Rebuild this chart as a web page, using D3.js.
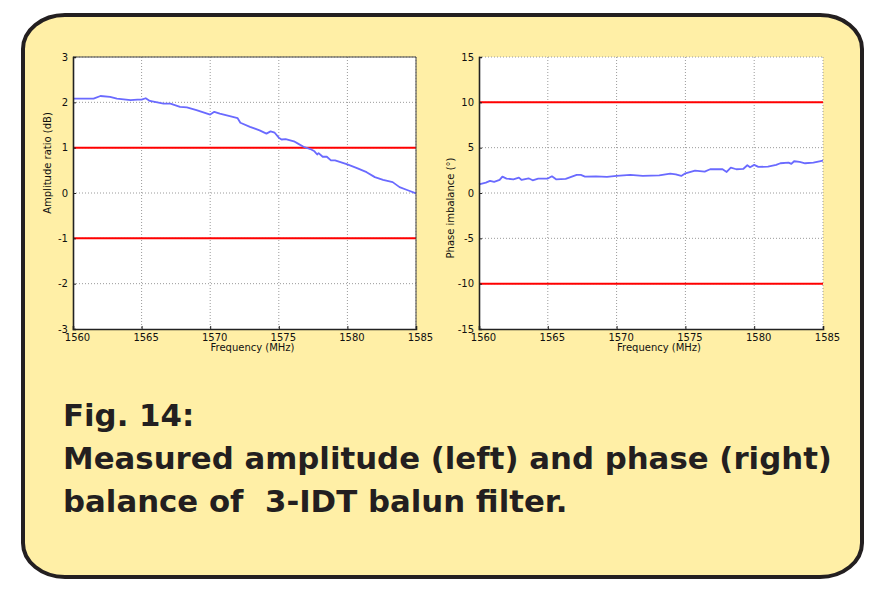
<!DOCTYPE html>
<html><head><meta charset="utf-8">
<script src="https://cdn.jsdelivr.net/npm/d3@7"></script>
<style>html,body{margin:0;padding:0;background:#fff;}svg{display:block;}</style>
</head><body>
<svg id="c" width="869" height="611"></svg>
<script>
// ---- data ----
const freqTicks = [1560, 1565, 1570, 1575, 1580, 1585];
const ampTicks = [-3, -2, -1, 0, 1, 2, 3];
const phaseTicks = [-15, -10, -5, 0, 5, 10, 15];
const ampLimits = [1, -1];
const phaseLimits = [10, -10];

const ampFreq = [1560.0,1561.5,1562.0,1562.7,1563.2,1564.2,1564.7,1565.0,1565.3,1565.6,1566.6,1567.1,1567.8,1568.3,1569.0,1570.0,1570.3,1570.7,1571.5,1572.0,1572.2,1572.9,1573.6,1574.1,1574.4,1574.7,1575.0,1575.2,1575.5,1576.1,1576.4,1576.8,1577.3,1577.6,1577.8,1577.9,1578.2,1578.5,1578.8,1579.1,1580.0,1580.7,1581.4,1582.0,1582.6,1583.3,1583.8,1584.4,1585.0];
const ampVals = [2.08,2.08,2.14,2.12,2.08,2.05,2.06,2.06,2.09,2.03,1.97,1.97,1.90,1.89,1.83,1.73,1.79,1.75,1.69,1.65,1.55,1.46,1.38,1.31,1.36,1.33,1.22,1.18,1.19,1.14,1.09,1.02,0.97,0.92,0.85,0.88,0.80,0.80,0.72,0.72,0.63,0.55,0.46,0.35,0.29,0.24,0.13,0.06,-0.01];

const phaseFreq = [1560.0,1560.5,1560.8,1561.1,1561.5,1561.7,1562.0,1562.5,1562.9,1563.1,1563.6,1563.9,1564.3,1565.0,1565.3,1565.6,1566.3,1567.1,1567.4,1567.7,1568.5,1569.3,1570.0,1571.0,1571.9,1573.1,1573.9,1574.3,1574.7,1575.0,1575.7,1576.4,1576.8,1577.7,1578.0,1578.3,1578.7,1579.2,1579.5,1579.7,1580.0,1580.3,1581.0,1581.6,1581.9,1582.5,1582.7,1582.9,1583.3,1583.7,1584.3,1585.0];
const phaseVals = [0.96,1.14,1.33,1.22,1.44,1.81,1.59,1.51,1.70,1.44,1.62,1.40,1.59,1.59,1.84,1.51,1.55,1.99,1.99,1.81,1.84,1.77,1.88,1.99,1.88,1.95,2.14,2.06,1.88,2.17,2.47,2.36,2.62,2.62,2.32,2.80,2.62,2.65,3.06,2.84,3.10,2.88,2.91,3.10,3.28,3.35,3.21,3.50,3.43,3.28,3.35,3.58];

const captionLines = ["Fig. 14:", "Measured amplitude (left) and phase (right)", "balance of  3-IDT balun filter."];

// ---- drawing ----
const svg = d3.select("#c");
const ink = "#231f20";

// rounded panel
svg.append("path")
  .attr("d", (() => {
    const x0 = 23, y0 = 15, x1 = 862, y1 = 577, rx = 42, ry = 34;
    return `M${x0+rx},${y0} H${x1-rx} A${rx},${ry} 0 0 1 ${x1},${y0+ry} V${y1-ry} A${rx},${ry} 0 0 1 ${x1-rx},${y1} H${x0+rx} A${rx},${ry} 0 0 1 ${x0},${y1-ry} V${y0+ry} A${rx},${ry} 0 0 1 ${x0+rx},${y0} Z`;
  })())
  .attr("fill", "#ffefa6").attr("stroke", ink).attr("stroke-width", 4);

function panel(opts) {
  const {left, right, top, bottom, yDomain, yTicks, xs, ys, limits, ylabel, ylabelX, ylabelY, solidFrame} = opts;
  const x = d3.scaleLinear().domain([1560, 1585]).range([left, right]);
  const y = d3.scaleLinear().domain(yDomain).range([bottom, top]);
  const g = svg.append("g");
  g.append("rect").attr("x", left).attr("y", top).attr("width", right - left).attr("height", bottom - top).attr("fill", "#fff");

  // grid
  g.append("g").selectAll("line").data(freqTicks.slice(1)).join("line")
    .attr("x1", d => x(d)).attr("x2", d => x(d)).attr("y1", top).attr("y2", bottom)
    .attr("stroke", "#9a9a9a").attr("stroke-width", 1).attr("stroke-dasharray", "1,2");
  g.append("g").selectAll("line").data(yTicks.slice(1)).join("line")
    .attr("x1", left).attr("x2", right).attr("y1", d => y(d)).attr("y2", d => y(d))
    .attr("stroke", "#9a9a9a").attr("stroke-width", 1).attr("stroke-dasharray", "1,2");

  // limit lines
  g.append("g").selectAll("line").data(limits).join("line")
    .attr("x1", left).attr("x2", right).attr("y1", d => y(d)).attr("y2", d => y(d))
    .attr("stroke", "#ff0000").attr("stroke-width", 2);

  // data line
  const pts = xs.map((f, i) => [f, ys[i]]);
  g.append("path").datum(pts)
    .attr("d", d3.line().x(d => x(d[0])).y(d => y(d[1])))
    .attr("fill", "none").attr("stroke", "#6a6aff").attr("stroke-width", 1.8).attr("stroke-linejoin", "round");

  if (solidFrame) {
    g.append("path").attr("d", `M${left},${top} H${right} V${bottom}`)
      .attr("fill", "none").attr("stroke", "#444").attr("stroke-width", 1);
  }

  // axes
  const fmt = d => String(d);
  const xAxis = d3.axisBottom(x).tickValues(freqTicks).tickSize(-3).tickPadding(6).tickFormat(fmt);
  const yAxis = d3.axisLeft(y).tickValues(yTicks).tickSize(-3).tickPadding(5).tickFormat(fmt);
  const gx = g.append("g").attr("transform", `translate(0,${bottom})`).call(xAxis);
  const gy = g.append("g").attr("transform", `translate(${left},0)`).call(yAxis);
  [gx, gy].forEach(a => {
    a.select(".domain").attr("stroke", "#222").attr("stroke-width", 1.6);
    a.selectAll(".tick line").attr("stroke", "#222");
    a.selectAll("text").attr("font-family", "DejaVu Sans, Verdana, sans-serif").attr("font-size", 10).attr("fill", "#111");
  });
  gx.selectAll("text").attr("dx", 4).attr("dy", "0.55em");
  gy.selectAll("text").attr("dy", "0.3em");

  g.append("text").attr("x", (left + right) / 2 + 8).attr("y", bottom + 22)
    .attr("text-anchor", "middle").attr("font-family", "DejaVu Sans, Verdana, sans-serif").attr("font-size", 10).attr("fill", "#111")
    .text("Frequency (MHz)");
  g.append("text").attr("transform", `translate(${ylabelX},${ylabelY}) rotate(-90)`)
    .attr("text-anchor", "middle").attr("font-family", "DejaVu Sans, Verdana, sans-serif").attr("font-size", 10).attr("fill", "#111")
    .text(ylabel);
}

panel({left: 73, right: 416, top: 57, bottom: 329, yDomain: [-3, 3], yTicks: ampTicks,
  xs: ampFreq, ys: ampVals, limits: ampLimits, ylabel: "Amplitude ratio (dB)", ylabelX: 51, ylabelY: 163, solidFrame: true});
panel({left: 479, right: 823, top: 57, bottom: 329, yDomain: [-15, 15], yTicks: phaseTicks,
  xs: phaseFreq, ys: phaseVals, limits: phaseLimits, ylabel: "Phase imbalance (°)", ylabelX: 454, ylabelY: 208, solidFrame: false});

// caption
svg.append("g").selectAll("text").data(captionLines).join("text")
  .attr("x", 63).attr("y", (d, i) => 426 + i * 43)
  .attr("font-family", "DejaVu Sans, sans-serif").attr("font-weight", "bold").attr("font-size", 30.8)
  .attr("fill", ink).attr("xml:space", "preserve").style("white-space", "pre")
  .text(d => d);
</script>
</body></html>
